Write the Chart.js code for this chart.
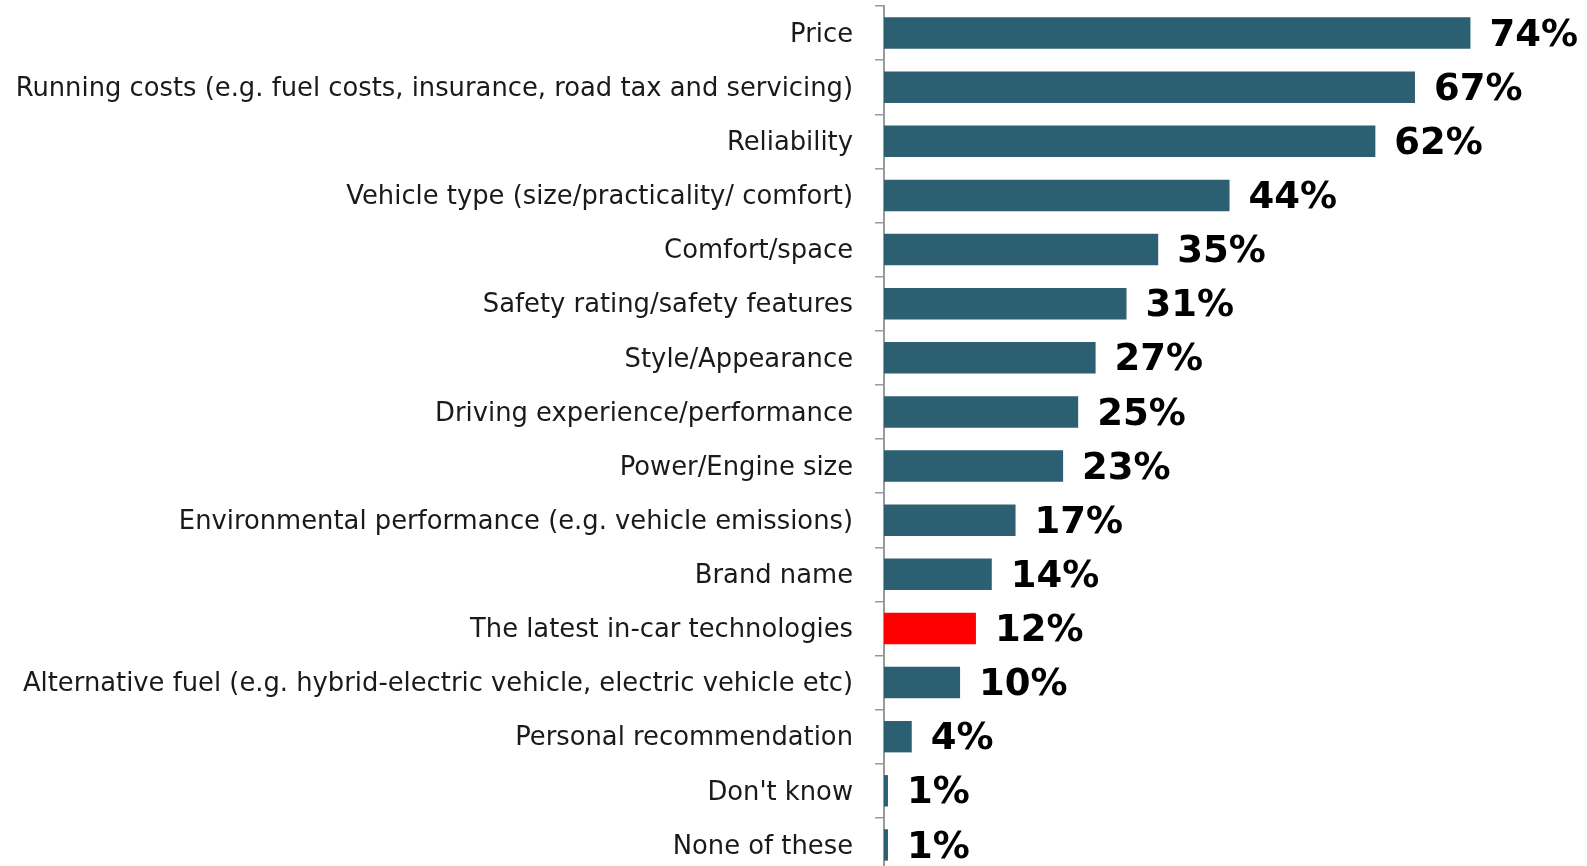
<!doctype html>
<html lang="en">
  <head>
    <meta charset="utf-8">
    <title>Purchase factors</title>
    <style>
      * {
        margin: 0;
        padding: 0;
      }
      html, body {
        width: 1587px;
        height: 866px;
        overflow: hidden;
        background: #fff;
      }
      .chartBox {
        width: 1587px;
        height: 872px;
      }
    </style>
  </head>
  <body>
    <div class="chartBox">
      <canvas id="myChart"></canvas>
    </div>
    <script src="https://cdn.jsdelivr.net/npm/chart.js/dist/chart.umd.min.js"></script>
    <script>

    const categories = [
        'Price',
        'Running costs (e.g. fuel costs, insurance, road tax and servicing)',
        'Reliability',
        'Vehicle type (size/practicality/ comfort)',
        'Comfort/space',
        'Safety rating/safety features',
        'Style/Appearance',
        'Driving experience/performance',
        'Power/Engine size',
        'Environmental performance (e.g. vehicle emissions)',
        'Brand name',
        'The latest in-car technologies',
        'Alternative fuel (e.g. hybrid-electric vehicle, electric vehicle etc)',
        'Personal recommendation',
        "Don't know",
        'None of these'
    ];

    // bar lengths (percent)
    const values = [74, 67, 62, 43.6, 34.6, 30.6, 26.7, 24.5, 22.6, 16.6, 13.6, 11.6, 9.6, 3.5, 0.5, 0.5];

    // printed labels
    const valueLabels = ['74%', '67%', '62%', '44%', '35%', '31%', '27%', '25%', '23%', '17%', '14%', '12%', '10%', '4%', '1%', '1%'];

    const highlighted = 'The latest in-car technologies';

    const barColor = '#2c5f72';
    const highlightColor = '#ff0000';

    // draws the bold % labels after each bar
    const valueLabelPlugin = {
        id: 'valueLabels',
        afterDatasetsDraw: (chart) => {
            const ctx = chart.ctx;
            const meta = chart.getDatasetMeta(0);
            ctx.save();
            ctx.font = 'bold 37px "DejaVu Sans"';
            ctx.fillStyle = '#000';
            ctx.textAlign = 'left';
            ctx.textBaseline = 'middle';
            meta.data.forEach((bar, i) => {
                ctx.fillText(valueLabels[i], bar.x + 19, bar.y + 3);
            });
            ctx.restore();
        }
    };

    const ctx = document.getElementById('myChart');

    const data = {
        labels: categories,
        datasets: [
            {
                data: values,
                backgroundColor: categories.map(c => c === highlighted ? highlightColor : barColor),
                borderWidth: 0,
                barPercentage: 0.58,
                categoryPercentage: 1
            }
        ]
    };

    const config = {
        type: 'bar',
        data,
        options: {
            indexAxis: 'y',
            responsive: true,
            maintainAspectRatio: false,
            animation: false,
            devicePixelRatio: 1,
            layout: {
                padding: { top: 6, right: 69, bottom: 0, left: 0 }
            },
            plugins: {
                legend: { display: false },
                tooltip: { enabled: false }
            },
            scales: {
                x: {
                    display: false,
                    min: 0,
                    max: 80
                },
                y: {
                    afterFit: (scale) => {
                        scale.width = 884;
                        scale.paddingTop = 0;
                        scale.paddingBottom = 0;
                    },
                    border: {
                        display: true,
                        color: '#999999',
                        width: 2
                    },
                    grid: {
                        drawOnChartArea: false,
                        drawTicks: true,
                        tickLength: 9,
                        color: '#999999',
                        lineWidth: 1.5
                    },
                    ticks: {
                        padding: 22,
                        labelOffset: 2,
                        color: '#1a1a1a',
                        font: { family: '"DejaVu Sans"', size: 25.8 }
                    }
                }
            }
        },
        plugins: [valueLabelPlugin]
    };

    const myChart = new Chart(ctx, config);

    </script>
  </body>
</html>
